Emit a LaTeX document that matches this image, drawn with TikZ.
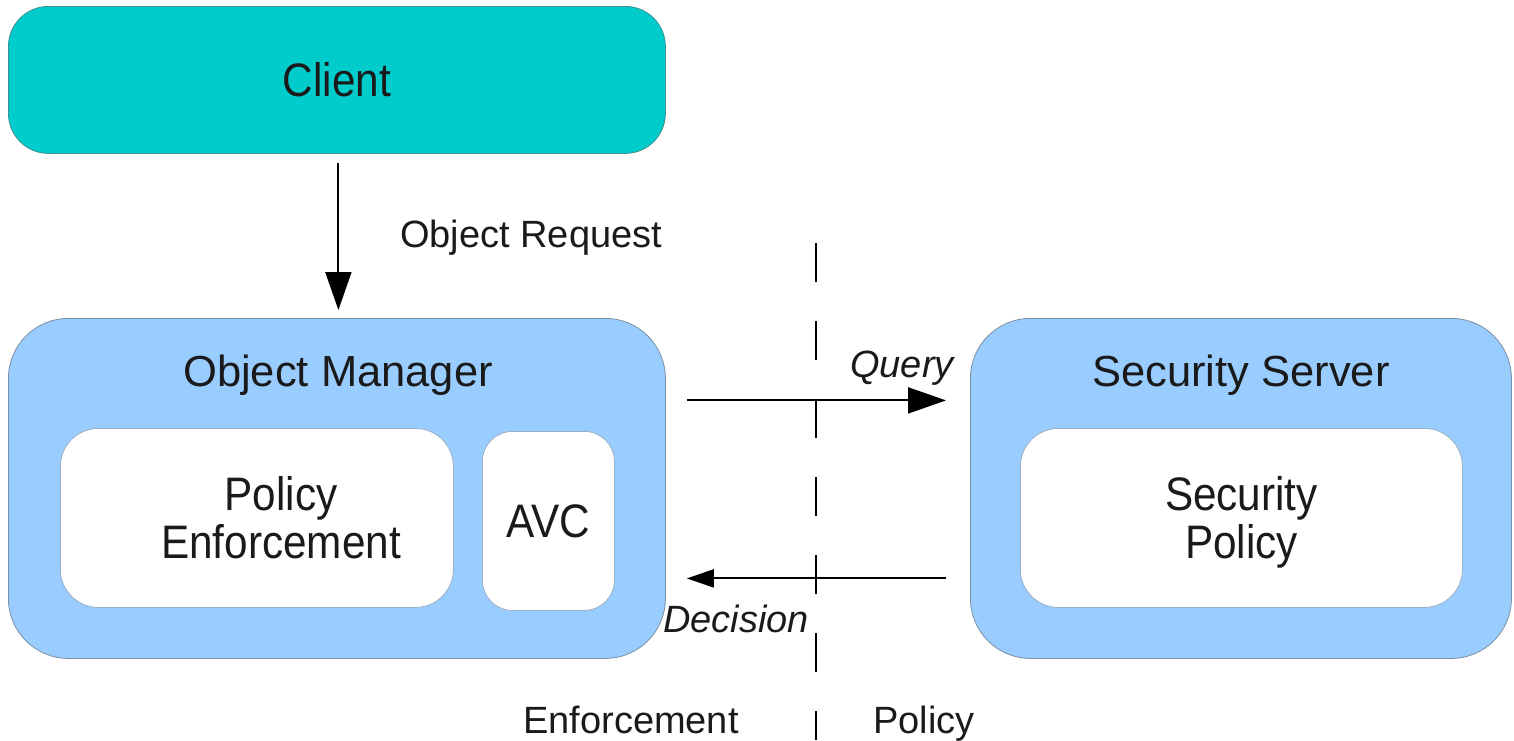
\documentclass[tikz,border=0pt]{standalone}
\usepackage{fontspec}
\setmainfont{Liberation Sans}
\newfontfamily\boxfont[FakeStretch=0.9]{Liberation Sans}
\usetikzlibrary{arrows.meta}
\definecolor{clientfill}{HTML}{00CCCC}
\definecolor{clientedge}{HTML}{3F8F8F}
\definecolor{bluefill}{HTML}{99CCFF}
\definecolor{edgegray}{HTML}{7A8FA3}
\definecolor{inneredge}{HTML}{9AAFC4}
\definecolor{txt}{HTML}{1A1A1A}
\begin{document}
\begin{tikzpicture}[x=1pt,y=-1pt,
  box/.style={draw=edgegray,line width=0.8pt,inner sep=0pt,anchor=north west,text=txt,
    font=\boxfont\fontsize{47}{48}\selectfont,align=center,text depth=0pt},
  boxtext/.style={inner sep=0pt,text=txt,font=\boxfont\fontsize{47}{48}\selectfont,align=center,text depth=0pt},
  title/.style={inner sep=0pt,anchor=base,text=txt,font=\fontsize{43.5}{48}\selectfont},
  lbl/.style={inner sep=0pt,anchor=base west,text=txt,font=\fontsize{38}{44}\selectfont},
  ilbl/.style={lbl,font=\fontsize{38}{44}\selectfont\itshape},
  arr/.style={line width=2pt,-{Triangle[length=38pt,width=26pt]}},
  arrs/.style={line width=2pt,-{Triangle[length=27pt,width=18pt]}},
  divider/.style={line width=2pt,dash pattern=on 39pt off 39pt},
]
\useasboundingbox (0,0) rectangle (1514,740);
% Client
\node[box,fill=clientfill,draw=clientedge,rounded corners=40pt,minimum width=657pt,minimum height=147pt] (client) at (8,6) {Client};
% Object Manager
\node[box,fill=bluefill,rounded corners=60pt,minimum width=657pt,minimum height=340pt] (om) at (8,318) {};
\node[title] (omt) at (338,386) {Object Manager};
\node[box,fill=white,draw=inneredge,rounded corners=38pt,minimum width=393pt,minimum height=179pt] (pe) at (60,428) {};
\node[boxtext] (pet) at (281,517.5) {Policy\\Enforcement};
\node[box,fill=white,draw=inneredge,rounded corners=30pt,minimum width=132pt,minimum height=179pt] (avc) at (482,431) {AVC};
% Security Server
\node[box,fill=bluefill,rounded corners=60pt,minimum width=541pt,minimum height=340pt] (ss) at (970,318) {};
\node[title] (sst) at (1241,386) {Security Server};
\node[box,fill=white,draw=inneredge,rounded corners=38pt,minimum width=442pt,minimum height=179pt] (sp) at (1020,428) {Security\\Policy};
% labels
\node[lbl] (req) at (400,247) {Object Request};
\node[ilbl] (q) at (850,377) {Query};
\node[ilbl] (dec) at (663,632) {Decision};
\node[lbl] (enf) at (523,733) {Enforcement};
\node[lbl] (pol) at (873,733) {Policy};
% divider
\coordinate (dtop) at (816,243);
\coordinate (dbot) at (816,740);
\draw[divider] (dtop) -- (dbot);
% connectors
\draw[arr] ([shift={(1.5,9)}]client.south) -- ([shift={(1.5,-8)}]om.north);
\draw[arr] ([shift={(21,-88)}]om.east) -- ([shift={(-24,-88)}]ss.west);
\draw[arrs] ([shift={(-24,90)}]ss.west) -- ([shift={(21,90)}]om.east);
\end{tikzpicture}
\end{document}
